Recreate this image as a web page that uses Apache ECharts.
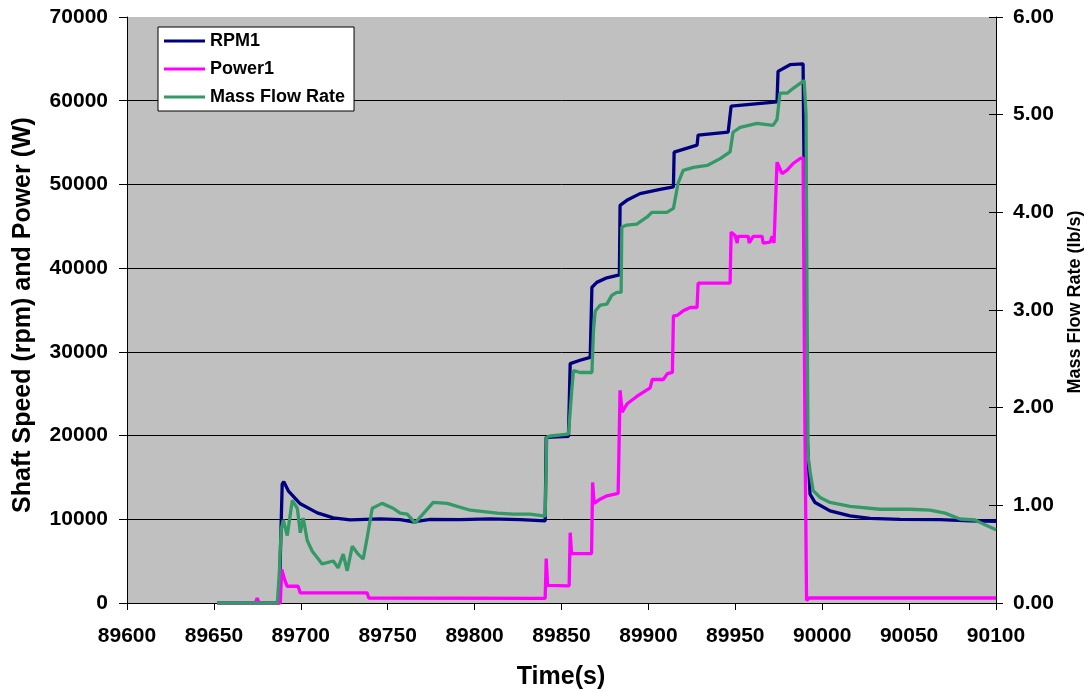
<!DOCTYPE html>
<html>
<head>
<meta charset="utf-8">
<script src="https://cdn.jsdelivr.net/npm/echarts@6/dist/echarts.min.js"></script>
<style>
  html, body { margin: 0; padding: 0; background: #fff; }
  #chart { width: 1084px; height: 692px; }
</style>
</head>
<body>
<div id="chart"></div>
<script>
// Shaft speed (rpm), time in seconds
const rpmTime = [89651.9, 89687.6, 89688.5, 89689.3, 89690.2, 89692.8, 89699.7, 89709.5, 89718.7, 89728.4,
  89745.7, 89757.2, 89764.7, 89774.5, 89791.7, 89809.0, 89826.2, 89840.6, 89841.2, 89854.0,
  89855.0, 89860.7, 89866.5, 89867.5, 89870.3, 89876.1, 89883.3, 89883.7, 89887.6, 89895.2,
  89906.7, 89914.4, 89914.8, 89928.0, 89928.6, 89945.9, 89947.6, 89974.0, 89974.6, 89981.5,
  89989.0, 89990.1, 89991.3, 89993.0, 89995.9, 90004.5, 90016.0, 90027.5, 90044.8, 90067.8,
  90085.1, 90100.0];
const rpmValue = [0, 0, 8000, 14200, 14500, 13400, 11850, 10770, 10170, 9930,
  10050, 9950, 9700, 10000, 9950, 10050, 9950, 9800, 19800, 19900,
  28600, 29000, 29350, 37700, 38300, 38850, 39200, 47500, 48100, 48900,
  49400, 49700, 53850, 54700, 55900, 56250, 59350, 59850, 63500, 64300,
  64400, 40000, 20000, 13000, 12000, 11000, 10400, 10100, 10000, 9950,
  9800, 9750];

// Power (W)
const powerTime = [89651.9, 89673.8, 89674.9, 89676.0, 89688.2, 89689.0, 89691.0, 89692.2, 89698.5, 89699.7,
  89738.2, 89739.1, 89840.6, 89841.2, 89842.0, 89854.4, 89855.0, 89855.8, 89867.3, 89867.9,
  89868.8, 89872.2, 89876.2, 89882.6, 89883.7, 89884.9, 89887.8, 89893.5, 89901.0, 89902.2,
  89908.6, 89910.9, 89913.8, 89914.4, 89916.5, 89920.0, 89924.1, 89928.0, 89928.6, 89947.0,
  89947.6, 89949.9, 89951.1, 89951.6, 89957.4, 89958.0, 89960.3, 89965.4, 89966.0, 89970.0,
  89971.2, 89972.3, 89973.4, 89974.0, 89976.9, 89979.8, 89983.3, 89987.3, 89989.0, 89990.1,
  89991.0, 89992.4, 90100.0];
const powerValue = [0, 0, 600, 0, 0, 4000, 2600, 2000, 2000, 1200,
  1200, 600, 550, 5300, 2100, 2050, 8400, 5900, 5900, 14400,
  11900, 12400, 12800, 13100, 25400, 22800, 23800, 24700, 25700, 26700,
  26700, 27400, 27550, 34300, 34350, 34900, 35300, 35300, 38200, 38200,
  44300, 43900, 43000, 43800, 43800, 43000, 43800, 43800, 43000, 43100,
  43800, 43000, 43000, 52650, 51300, 51700, 52500, 53100, 53200, 20000,
  300, 600, 600];

// Mass flow rate (lb/s)
const flowTime = [89651.9, 89686.5, 89687.6, 89688.7, 89689.9, 89691.0, 89692.2, 89695.1, 89698.0, 89699.7,
  89701.4, 89703.7, 89706.6, 89712.3, 89718.7, 89721.5, 89724.4, 89726.7, 89729.6, 89733.0,
  89735.9, 89738.2, 89741.1, 89746.8, 89753.1, 89757.2, 89761.2, 89765.8, 89776.2, 89784.2,
  89797.5, 89813.0, 89822.2, 89832.0, 89840.6, 89841.5, 89843.5, 89854.0, 89856.0, 89856.9,
  89860.7, 89867.5, 89868.4, 89869.4, 89872.3, 89876.1, 89878.9, 89881.8, 89884.3, 89884.7,
  89887.6, 89893.3, 89899.1, 89902.0, 89910.6, 89914.4, 89917.1, 89920.0, 89926.0, 89933.8,
  89941.3, 89947.0, 89948.7, 89952.8, 89962.5, 89971.7, 89974.0, 89975.7, 89979.8, 89983.3,
  89987.3, 89989.6, 89990.7, 89991.3, 89991.9, 89993.0, 89994.8, 89998.8, 90004.5, 90016.0,
  90033.3, 90050.5, 90062.0, 90070.7, 90079.3, 90088.0, 90093.7, 90100.0];
const flowValue = [0, 0, 0.30, 0.75, 0.85, 0.84, 0.69, 1.05, 0.97, 0.72,
  0.87, 0.64, 0.53, 0.40, 0.43, 0.36, 0.50, 0.33, 0.58, 0.50,
  0.45, 0.67, 0.97, 1.02, 0.97, 0.92, 0.91, 0.82, 1.03, 1.02,
  0.95, 0.92, 0.91, 0.91, 0.89, 1.70, 1.71, 1.73, 2.20, 2.38,
  2.36, 2.36, 2.79, 2.99, 3.05, 3.06, 3.15, 3.18, 3.18, 3.85,
  3.87, 3.88, 3.95, 4.00, 4.00, 4.04, 4.30, 4.43, 4.46, 4.48,
  4.55, 4.62, 4.82, 4.87, 4.91, 4.89, 4.95, 5.22, 5.22, 5.27,
  5.32, 5.35, 5.00, 3.00, 1.50, 1.35, 1.15, 1.08, 1.03, 0.99,
  0.96, 0.96, 0.95, 0.92, 0.86, 0.85, 0.80, 0.75];

const zip = (t, v) => t.map((x, i) => [x, v[i]]);

const FONT = '"Liberation Sans", Arial, Helvetica, sans-serif';
const chart = echarts.init(document.getElementById('chart'), null, { renderer: 'canvas' });

const tickLabel = { fontFamily: FONT, fontWeight: 'bold', fontSize: 21, color: '#000' };
const plain = v => String(v);

chart.setOption({
  animation: false,
  backgroundColor: '#fff',
  grid: {
    left: 127, right: 88, top: 17, bottom: 89,
    show: true, backgroundColor: '#C0C0C0', borderWidth: 0
  },
  legend: {
    orient: 'vertical',
    left: 158, top: 27,
    padding: [4, 9, 4, 6],
    itemGap: 8,
    itemWidth: 41, itemHeight: 3,
    icon: 'rect',
    backgroundColor: '#fff',
    borderColor: '#000', borderWidth: 1,
    selectedMode: false,
    textStyle: { fontFamily: FONT, fontWeight: 'bold', fontSize: 18, lineHeight: 20, color: '#000' },
    data: ['RPM1', 'Power1', 'Mass Flow Rate']
  },
  xAxis: {
    type: 'value',
    min: 89600, max: 90100, interval: 50,
    axisLine: { show: true, lineStyle: { color: '#000', width: 1 } },
    axisTick: { show: true, inside: false, length: 7, lineStyle: { color: '#000' } },
    axisLabel: Object.assign({ margin: 23, formatter: plain }, tickLabel),
    splitLine: { show: false }
  },
  yAxis: [
    {
      type: 'value', position: 'left',
      min: 0, max: 70000, interval: 10000,
      axisLine: { show: true, lineStyle: { color: '#000', width: 1 } },
      axisTick: { show: true, inside: false, length: 8, lineStyle: { color: '#000' } },
      axisLabel: Object.assign({ margin: 19, formatter: plain }, tickLabel),
      splitLine: {
        show: true,
        lineStyle: { width: 1, color: ['#000', '#000', '#000', '#000', '#000', '#000', '#000', 'rgba(0,0,0,0)'] }
      }
    },
    {
      type: 'value', position: 'right',
      min: 0, max: 6, interval: 1,
      axisLine: { show: true, onZero: false, lineStyle: { color: '#000', width: 1 } },
      axisTick: { show: true, inside: false, length: 7, lineStyle: { color: '#000' } },
      axisLabel: Object.assign({ margin: 17, formatter: v => v.toFixed(2) }, tickLabel),
      splitLine: { show: false }
    },
    {
      // inner half of the right-hand cross ticks
      type: 'value', position: 'right',
      min: 0, max: 6, interval: 1,
      axisLine: { show: false },
      axisTick: { show: true, inside: true, length: 7, lineStyle: { color: '#000' } },
      axisLabel: { show: false },
      splitLine: { show: false }
    }
  ],
  graphic: [
    {
      type: 'text',
      x: 561, y: 677,
      style: {
        text: 'Time(s)',
        font: 'bold 25px ' + FONT, fill: '#000',
        textAlign: 'center', textVerticalAlign: 'middle'
      }
    },
    {
      type: 'text',
      x: 23, y: 315, rotation: Math.PI / 2,
      style: {
        text: 'Shaft Speed (rpm) and Power (W)',
        font: 'bold 25px ' + FONT, fill: '#000',
        textAlign: 'center', textVerticalAlign: 'middle'
      }
    },
    {
      type: 'text',
      x: 1075, y: 302, rotation: Math.PI / 2,
      style: {
        text: 'Mass Flow Rate (lb/s)',
        font: 'bold 18px ' + FONT, fill: '#000',
        textAlign: 'center', textVerticalAlign: 'middle'
      }
    }
  ],
  series: [
    {
      name: 'RPM1', type: 'line', yAxisIndex: 0,
      showSymbol: false, symbol: 'none',
      color: '#000080',
      lineStyle: { color: '#000080', width: 3.3 },
      data: zip(rpmTime, rpmValue)
    },
    {
      name: 'Power1', type: 'line', yAxisIndex: 0,
      showSymbol: false, symbol: 'none',
      color: '#FF00FF',
      lineStyle: { color: '#FF00FF', width: 3.3 },
      data: zip(powerTime, powerValue)
    },
    {
      name: 'Mass Flow Rate', type: 'line', yAxisIndex: 1,
      showSymbol: false, symbol: 'none',
      color: '#339966',
      lineStyle: { color: '#339966', width: 3.3 },
      data: zip(flowTime, flowValue)
    }
  ]
});
</script>
</body>
</html>
